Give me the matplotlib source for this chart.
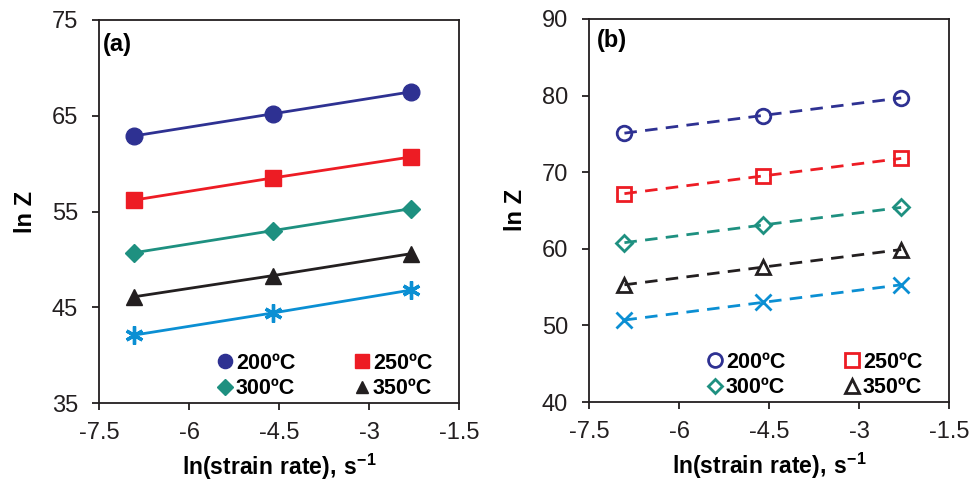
import matplotlib
matplotlib.use('Agg')
import matplotlib.pyplot as plt
from matplotlib.lines import Line2D

plt.rcParams['font.family'] = ['Liberation Sans', 'DejaVu Sans']
plt.rcParams['mathtext.fontset'] = 'custom'
plt.rcParams['mathtext.rm'] = 'Liberation Sans'
plt.rcParams['mathtext.bf'] = 'Liberation Sans:bold'

# ln(strain rate) for 0.001, 0.01, 0.1 s^-1
strain_rate = [-6.91, -4.61, -2.30]
temps = ['200ºC', '250ºC', '300ºC', '350ºC', '400ºC']

lnz_a = [
    [62.9, 65.2, 67.5],
    [56.2, 58.5, 60.7],
    [50.7, 53.0, 55.3],
    [46.1, 48.3, 50.6],
    [42.1, 44.4, 46.8],
]
lnz_b = [
    [75.1, 77.4, 79.7],
    [67.2, 69.5, 71.8],
    [60.8, 63.1, 65.4],
    [55.3, 57.6, 59.9],
    [50.7, 53.0, 55.3],
]

colors = ['#2E3192', '#ED1C24', '#1E9080', '#231F20', '#0B8FD3']
markers_a = ['o', 's', 'D', '^', (6, 2, 0)]
markers_b = ['o', 's', 'D', '^', 'x']
msize_a = [12, 11.5, 9, 11, 13]
msize_b = [10.5, 10.5, 8, 10, 11]

fig = plt.figure(figsize=(9.71, 4.83), dpi=100)
ax_a = fig.add_axes([0.102, 0.1656, 0.371, 0.793])
ax_b = fig.add_axes([0.6066, 0.1677, 0.371, 0.793])

for i in range(len(temps)):
    ax_a.plot(strain_rate, lnz_a[i], color=colors[i], lw=2, marker=markers_a[i],
              ms=msize_a[i], mew=2.4 if i == 4 else 1)
    ax_b.plot(strain_rate, lnz_b[i], color=colors[i], lw=2, ls=(0, (4.5, 3)),
              marker=markers_b[i], ms=msize_b[i], mfc='none', mew=2)

# legend order so rows read 200/250 then 300/350
order = [0, 2, 1, 3]
handles_a = [Line2D([], [], ls='none', marker=markers_a[i], color=colors[i],
                    ms=msize_a[i] * 0.85) for i in order]
handles_b = [Line2D([], [], ls='none', marker=markers_b[i], color=colors[i],
                    mfc='none', mew=2, ms=msize_b[i] * 0.95) for i in order]
labels = [temps[i] for i in order]

for ax, ylim, yticks, tag, handles, tagpos in [
        (ax_a, (35, 75), [35, 45, 55, 65, 75], '(a)', handles_a, (0.012, 0.965)),
        (ax_b, (40, 90), [40, 50, 60, 70, 80, 90], '(b)', handles_b, (0.022, 0.975))]:
    ax.set_xlim(-7.5, -1.5)
    ax.set_xticks([-7.5, -6, -4.5, -3, -1.5])
    ax.set_xticklabels(['-7.5', '-6', '-4.5', '-3', '-1.5'])
    ax.set_ylim(*ylim)
    ax.set_yticks(yticks)
    ax.tick_params(direction='out', length=5, width=1.3, labelsize=17,
                   labelcolor='#231F20', color='#231F20')
    ax.tick_params(axis='y', pad=10)
    ax.tick_params(axis='x', pad=9)
    for s in ax.spines.values():
        s.set_linewidth(1.3)
        s.set_color('#231F20')
    ax.set_ylabel('ln Z', fontsize=17, fontweight='bold', labelpad=11)
    ax.set_xlabel(r'$\mathbf{ln(strain\ rate),\,s^{-1}}$', fontsize=16.5,
                  labelpad=5)
    ax.text(tagpos[0], tagpos[1], tag, transform=ax.transAxes, fontsize=17,
            fontweight='bold', va='top', ha='left')
    ax.legend(handles, labels, loc='lower right', bbox_to_anchor=(0.925, 0.01),
              ncol=2, frameon=False, prop={'size': 15.5, 'weight': 'bold'},
              handlelength=0.75, handletextpad=0.15, columnspacing=2.7,
              labelspacing=0.2, borderaxespad=0, borderpad=0)

fig.savefig('out.png', dpi=100)
